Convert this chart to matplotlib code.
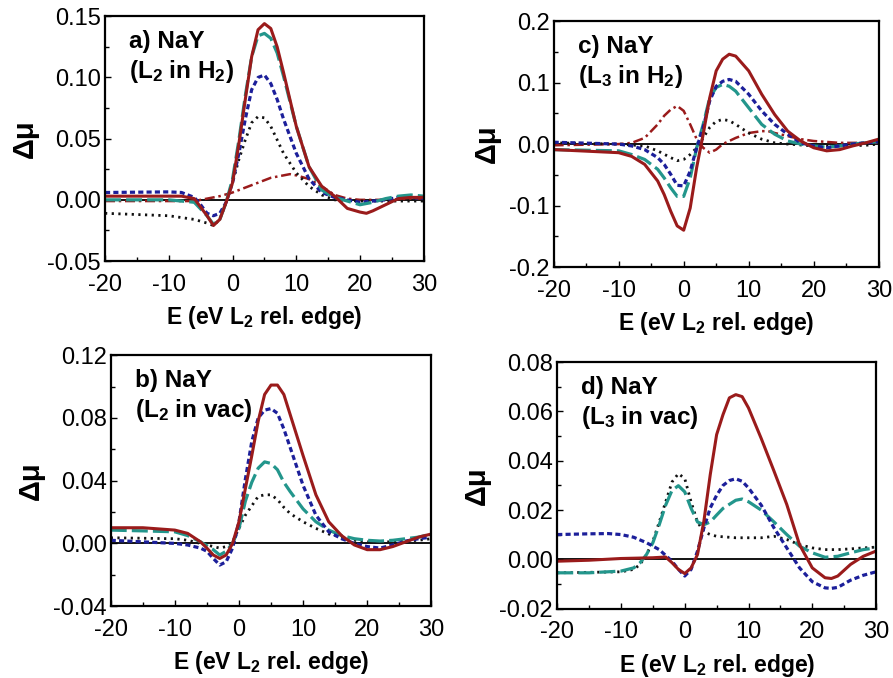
import matplotlib
matplotlib.use("Agg")
import matplotlib.pyplot as plt
from matplotlib.ticker import MultipleLocator, FormatStrFormatter

plt.rcParams["font.family"] = ["Liberation Sans", "DejaVu Sans"]
plt.rcParams["axes.unicode_minus"] = False
plt.rcParams["mathtext.fontset"] = "custom"
plt.rcParams["mathtext.rm"] = "Liberation Sans:bold"
plt.rcParams["mathtext.it"] = "Liberation Sans:bold"
plt.rcParams["mathtext.bf"] = "Liberation Sans:bold"
plt.rcParams["mathtext.default"] = "rm"

RED = "#9a1b1b"
BLUE = "#1c1f9a"
TEAL = "#23968c"
BLACK = "#111111"

# ---------- a) L2 in H2 ----------
a_red_x = [-20, -10, -8, -6, -4, -3, -2, -1, 0, 1, 2, 3, 4, 5, 6, 7, 8, 10, 12, 14, 16, 17, 18, 20, 21, 22, 24, 26, 28, 30]
a_red_y = [0.003, 0.003, 0.003, 0.001, -0.013, -0.021, -0.016, -0.002, 0.014, 0.046, 0.082, 0.117, 0.139, 0.144, 0.140,
           0.125, 0.104, 0.060, 0.027, 0.011, 0.003, -0.002, -0.007, -0.010, -0.011, -0.009, -0.004, 0.001, 0.002, 0.002]
a_teal_x = [-20, -10, -6, -4, -3, -2, -1, 0, 1, 2, 3, 4, 5, 6, 7, 8, 10, 12, 14, 16, 18, 20, 22, 24, 26, 28, 30]
a_teal_y = [0.0, 0.0, -0.002, -0.013, -0.020, -0.016, -0.002, 0.017, 0.049, 0.085, 0.117, 0.134, 0.136, 0.132, 0.120,
            0.101, 0.060, 0.027, 0.008, 0.002, -0.001, -0.004, -0.002, 0.001, 0.003, 0.004, 0.003]
a_blue_x = [-20, -10, -8, -6, -5, -4, -3, -2, -1, 0, 1, 2, 3, 4, 5, 6, 7, 8, 10, 12, 14, 16, 18, 20, 22, 24, 26, 28, 30]
a_blue_y = [0.006, 0.0065, 0.006, 0.002, -0.004, -0.011, -0.013, -0.011, -0.002, 0.014, 0.038, 0.066, 0.090, 0.100, 0.102,
            0.095, 0.082, 0.066, 0.038, 0.017, 0.006, 0.002, 0.0, -0.002, -0.001, 0.0, 0.002, 0.002, 0.001]
a_black_x = [-20, -15, -10, -6, -4, -3, -2, -1, 0, 1, 2, 3, 4, 5, 6, 7, 8, 10, 12, 14, 16, 20, 24, 28, 30]
a_black_y = [-0.011, -0.012, -0.013, -0.016, -0.019, -0.021, -0.016, -0.002, 0.014, 0.033, 0.049, 0.063, 0.068, 0.067,
             0.060, 0.049, 0.038, 0.022, 0.011, 0.004, 0.0, -0.001, -0.001, -0.001, -0.001]
a_dd_x = [-20, -10, -6, -4, -2, 0, 2, 4, 6, 8, 9, 10, 12, 14, 16, 18, 20, 24, 28, 30]
a_dd_y = [-0.001, -0.001, -0.001, 0.001, 0.003, 0.006, 0.010, 0.014, 0.018, 0.020, 0.021, 0.020, 0.017, 0.011, 0.004,
          0.001, 0.0, 0.0, 0.001, 0.001]

# ---------- c) L3 in H2 ----------
c_red_x = [-20, -10, -8, -6, -4, -3, -2, -1, 0, 1, 2, 3, 4, 5, 6, 7, 8, 10, 12, 14, 16, 18, 20, 22, 24, 26, 28, 30]
c_red_y = [-0.009, -0.014, -0.020, -0.033, -0.060, -0.082, -0.109, -0.133, -0.140, -0.104, -0.038, 0.016, 0.075, 0.119,
           0.138, 0.146, 0.143, 0.119, 0.081, 0.048, 0.021, 0.005, -0.006, -0.011, -0.009, -0.003, 0.002, 0.008]
c_blue_x = [-20, -10, -8, -6, -4, -3, -2, -1, 0, 1, 2, 3, 4, 5, 6, 7, 8, 10, 12, 14, 16, 18, 20, 22, 24, 26, 28, 30]
c_blue_y = [0.003, 0.0, -0.003, -0.009, -0.022, -0.033, -0.049, -0.067, -0.068, -0.044, -0.006, 0.027, 0.070, 0.094,
            0.102, 0.105, 0.102, 0.081, 0.054, 0.032, 0.016, 0.002, -0.003, -0.006, -0.003, 0.0, 0.002, 0.004]
c_teal_x = [-20, -10, -8, -6, -4, -3, -2, -1, 0, 1, 2, 3, 4, 5, 6, 7, 8, 10, 12, 14, 16, 18, 20, 22, 24, 26, 28, 30]
c_teal_y = [-0.009, -0.011, -0.017, -0.025, -0.041, -0.055, -0.071, -0.085, -0.085, -0.055, -0.006, 0.032, 0.075, 0.092,
            0.097, 0.094, 0.086, 0.059, 0.032, 0.016, 0.005, 0.0, -0.003, -0.005, -0.003, 0.0, 0.002, 0.004]
c_black_x = [-20, -10, -6, -4, -2, -1, 0, 1, 2, 3, 4, 5, 6, 7, 8, 10, 12, 14, 16, 20, 24, 28, 30]
c_black_y = [0.002, 0.0, -0.003, -0.011, -0.022, -0.027, -0.025, -0.017, -0.006, 0.010, 0.027, 0.037, 0.040, 0.038,
             0.032, 0.018, 0.008, 0.002, 0.0, -0.003, -0.003, -0.002, 0.0]
c_dd_x = [-20, -10, -8, -6, -4, -3, -2, -1, 0, 1, 2, 3, 4, 5, 6, 8, 10, 12, 13, 14, 16, 18, 20, 24, 28, 30]
c_dd_y = [-0.002, 0.0, 0.002, 0.010, 0.032, 0.046, 0.056, 0.062, 0.054, 0.032, 0.008, -0.006, -0.014, -0.009, 0.0,
          0.010, 0.018, 0.021, 0.021, 0.018, 0.013, 0.008, 0.005, 0.002, 0.002, 0.002]

# ---------- b) L2 in vac ----------
b_red_x = [-20, -15, -10, -8, -6, -5, -4, -3, -2, -1, 0, 1, 2, 3, 4, 5, 6, 7, 8, 10, 12, 14, 16, 18, 20, 22, 24, 26, 28, 30]
b_red_y = [0.010, 0.010, 0.0085, 0.0064, 0.001, -0.003, -0.0074, -0.0096, -0.0074, 0.0, 0.0138, 0.035, 0.056, 0.078,
           0.095, 0.101, 0.101, 0.095, 0.082, 0.056, 0.031, 0.0138, 0.005, -0.001, -0.004, -0.004, -0.002, 0.001,
           0.004, 0.006]
b_blue_x = [-20, -15, -10, -8, -6, -5, -4, -3, -2, -1, 0, 1, 2, 3, 4, 5, 6, 7, 8, 10, 12, 14, 16, 18, 20, 22, 24, 26, 28, 30]
b_blue_y = [0.002, 0.001, 0.0, -0.001, -0.003, -0.005, -0.0096, -0.0138, -0.0117, -0.003, 0.0138, 0.041, 0.065, 0.080,
            0.085, 0.086, 0.083, 0.073, 0.061, 0.037, 0.018, 0.0074, 0.003, 0.0, -0.002, -0.003, -0.001, 0.0015,
            0.003, 0.004]
b_teal_x = [-20, -15, -10, -8, -6, -4, -3, -2, -1, 0, 1, 2, 3, 4, 5, 6, 7, 8, 10, 12, 14, 16, 18, 20, 22, 24, 26, 28, 30]
b_teal_y = [0.0085, 0.008, 0.0074, 0.005, 0.001, -0.004, -0.0074, -0.005, 0.0, 0.0096, 0.027, 0.039, 0.048, 0.052,
            0.051, 0.047, 0.039, 0.033, 0.022, 0.0138, 0.0085, 0.005, 0.003, 0.002, 0.0015, 0.002, 0.003, 0.004, 0.006]
b_black_x = [-20, -10, -8, -6, -4, -3, -2, -1, 0, 1, 2, 3, 4, 5, 6, 7, 8, 10, 12, 14, 16, 18, 20, 24, 28, 30]
b_black_y = [0.0036, 0.003, 0.002, 0.0, -0.002, -0.003, -0.002, 0.001, 0.0096, 0.018, 0.024, 0.030, 0.031, 0.031,
             0.028, 0.023, 0.019, 0.0138, 0.0096, 0.006, 0.004, 0.002, 0.001, 0.001, 0.002, 0.003]

# ---------- d) L3 in vac ----------
d_red_x = [-20, -15, -10, -5, -3, -2, -1, 0, 1, 2, 3, 4, 5, 6, 7, 8, 9, 10, 12, 14, 16, 18, 20, 22, 23, 24, 26, 28, 30]
d_red_y = [-0.0007, -0.0003, 0.0004, 0.0007, 0.001, -0.0013, -0.004, -0.0057, -0.0034, 0.002, 0.0155, 0.0344, 0.0506,
           0.0587, 0.0655, 0.0668, 0.066, 0.0614, 0.049, 0.0358, 0.0223, 0.006, -0.0034, -0.0074, -0.0077, -0.0067,
           -0.002, 0.0013, 0.0034]
d_blue_x = [-20, -15, -12, -10, -8, -6, -4, -2, -1, 0, 1, 2, 3, 4, 5, 6, 7, 8, 9, 10, 12, 14, 16, 18, 20, 22, 23, 24, 26, 28, 30]
d_blue_y = [0.0101, 0.0104, 0.0105, 0.0101, 0.009, 0.0068, 0.004, -0.0007, -0.004, -0.0067, -0.004, 0.0034, 0.0128,
            0.0209, 0.026, 0.030, 0.032, 0.0327, 0.0317, 0.029, 0.022, 0.0128, 0.0047, -0.0034, -0.009, -0.0115,
            -0.0117, -0.0113, -0.0084, -0.0064, -0.005]
d_teal_x = [-20, -15, -10, -8, -7, -6, -5, -4, -3, -2, -1, 0, 1, 2, 3, 4, 5, 6, 8, 9, 10, 12, 14, 16, 18, 20, 22, 24, 26, 28, 30]
d_teal_y = [-0.0054, -0.0054, -0.0047, -0.0034, -0.0013, 0.002, 0.0068, 0.0141, 0.022, 0.028, 0.0299, 0.0274, 0.0207,
            0.0152, 0.0141, 0.0152, 0.018, 0.0207, 0.024, 0.0245, 0.0234, 0.020, 0.0152, 0.0101, 0.0054, 0.0027,
            0.0009, 0.0013, 0.0027, 0.004, 0.0047]
d_black_x = [-20, -10, -8, -7, -6, -5, -4, -3, -2, -1, 0, 1, 2, 3, 4, 5, 8, 12, 14, 16, 18, 20, 22, 24, 26, 28, 30]
d_black_y = [-0.0054, -0.005, -0.004, -0.002, 0.002, 0.0074, 0.0152, 0.0233, 0.0314, 0.0348, 0.0328, 0.0233, 0.0152,
             0.0112, 0.0101, 0.0094, 0.0088, 0.0088, 0.0094, 0.0081, 0.006, 0.0047, 0.004, 0.004, 0.0043, 0.0047, 0.005]

panels = [
    # rect, label, ylim, ystep, yfmt, series
    ([0.1176, 0.615, 0.357, 0.361], "a) NaY\n(L$_2$ in H$_2$)", (-0.05, 0.15), 0.05, "%.2f",
     [(a_dd_x, a_dd_y, "dashdot"), (a_black_x, a_black_y, "dot"), (a_blue_x, a_blue_y, "dash"),
      (a_teal_x, a_teal_y, "long"), (a_red_x, a_red_y, "solid")]),
    ([0.620, 0.606, 0.364, 0.363], "c) NaY\n(L$_3$ in H$_2$)", (-0.2, 0.2), 0.1, "%.1f",
     [(c_dd_x, c_dd_y, "dashdot"), (c_black_x, c_black_y, "dot"), (c_teal_x, c_teal_y, "long"),
      (c_blue_x, c_blue_y, "dash"), (c_red_x, c_red_y, "solid")]),
    ([0.124, 0.106, 0.359, 0.370], "b) NaY\n(L$_2$ in vac)", (-0.04, 0.12), 0.04, "%.2f",
     [(b_black_x, b_black_y, "dot"), (b_teal_x, b_teal_y, "long"), (b_blue_x, b_blue_y, "dash"),
      (b_red_x, b_red_y, "solid")]),
    ([0.624, 0.102, 0.357, 0.364], "d) NaY\n(L$_3$ in vac)", (-0.02, 0.08), 0.02, "%.2f",
     [(d_black_x, d_black_y, "dot"), (d_teal_x, d_teal_y, "long"), (d_blue_x, d_blue_y, "dash"),
      (d_red_x, d_red_y, "solid")]),
]

styles = {
    "solid": dict(color=RED, lw=2.2, linestyle="-"),
    "dash": dict(color=BLUE, lw=2.3, linestyle=(0, (1.6, 1.0))),
    "long": dict(color=TEAL, lw=2.3, linestyle=(0, (5.0, 1.6))),
    "dot": dict(color=BLACK, lw=2.0, linestyle=(0, (0.8, 1.6))),
    "dashdot": dict(color=RED, lw=1.8, linestyle=(0, (4.0, 1.5, 1.0, 1.5))),
}

fig = plt.figure(figsize=(8.93, 6.78), dpi=100)

for rect, label, ylim, ystep, yfmt, series in panels:
    ax = fig.add_axes(rect)
    ax.axhline(0, color="black", lw=1.3, zorder=1)
    for xs, ys, kind in series:
        ax.plot(xs, ys, zorder=2, **styles[kind])
    ax.set_xlim(-20, 30)
    ax.set_ylim(*ylim)
    ax.xaxis.set_major_locator(MultipleLocator(10))
    ax.xaxis.set_minor_locator(MultipleLocator(5))
    ax.yaxis.set_major_locator(MultipleLocator(ystep))
    ax.yaxis.set_minor_locator(MultipleLocator(ystep / 2))
    ax.yaxis.set_major_formatter(FormatStrFormatter(yfmt))
    ax.tick_params(which="both", direction="in", labelsize=17)
    ax.tick_params(axis="x", which="major", pad=9)
    ax.tick_params(axis="y", which="major", pad=3)
    ax.tick_params(which="major", length=4, width=1)
    ax.tick_params(which="minor", length=3, width=1)
    for sp in ax.spines.values():
        sp.set_linewidth(1.6)
    ax.set_xlabel("E (eV L$_2$ rel. edge)", fontsize=16.5, fontweight="bold", labelpad=6)
    ax.set_ylabel("Δμ", fontsize=21, fontweight="bold", labelpad=6)
    ax.text(0.075, 0.945, label, transform=ax.transAxes, fontsize=17.5, fontweight="bold",
            va="top", ha="left", linespacing=1.25)

fig.savefig("out.png", dpi=100)
